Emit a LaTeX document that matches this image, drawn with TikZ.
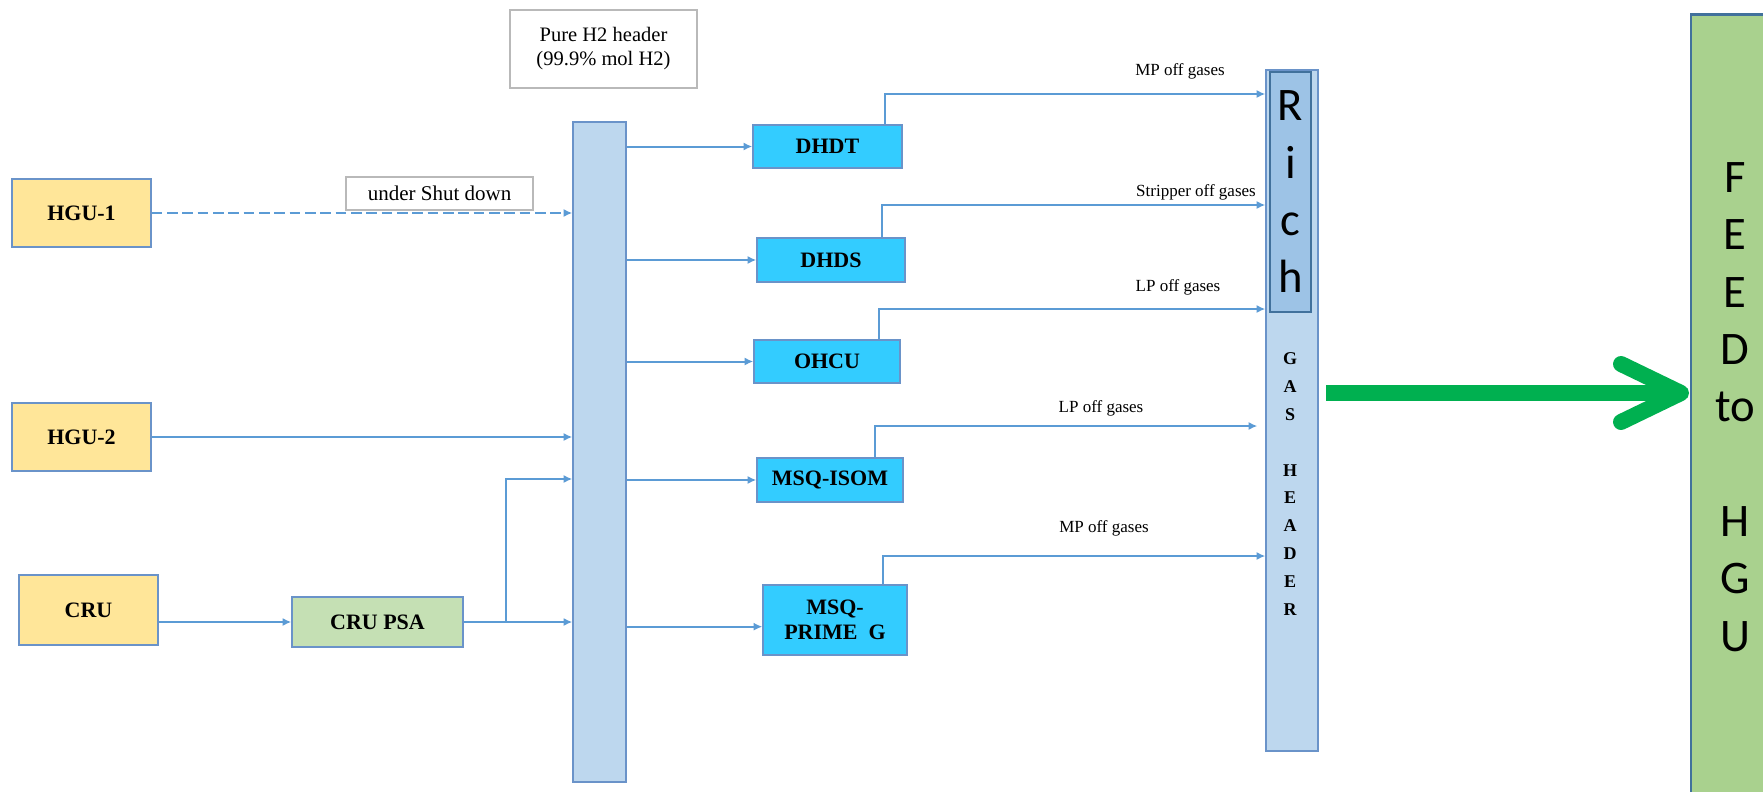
\documentclass[tikz,border=0pt]{standalone}
\usepackage{fontspec}
\setmainfont{Liberation Serif}
\newfontfamily\calib{Carlito}
\usetikzlibrary{arrows.meta,calc}
\definecolor{lineblue}{HTML}{5B9BD5}
\definecolor{boxedge}{HTML}{6A93C9}
\definecolor{darkedge}{HTML}{41719C}
\definecolor{hdrfill}{HTML}{BDD7EE}
\definecolor{richfill}{HTML}{9DC3E6}
\definecolor{yelfill}{HTML}{FFE699}
\definecolor{cyanfill}{HTML}{33CCFF}
\definecolor{psafill}{HTML}{C5E0B4}
\definecolor{feedfill}{HTML}{A9D18E}
\definecolor{garrowc}{HTML}{00B050}
\tikzset{
  unitbox/.style={draw=boxedge, line width=1pt, inner sep=0pt, align=center,
    font=\bfseries\fontsize{16.5}{18.75}\selectfont},
  srcbox/.style={unitbox, fill=yelfill},
  procbox/.style={unitbox, fill=cyanfill},
  psabox/.style={unitbox, fill=psafill},
  notebox/.style={draw=gray!55, line width=0.8pt, inner sep=0pt, align=center},
  flow/.style={draw=lineblue, line width=1.5pt, -{Latex[length=6.5pt,width=6pt]}},
  dflow/.style={flow, dash pattern=on 8pt off 3.5pt},
  gaslabel/.style={inner sep=0pt, font=\fontsize{12.75}{14}\selectfont},
  garrow/.style={draw=garrowc, line width=12pt, line cap=round, line join=round},
}
\begin{document}
\begin{tikzpicture}[x=0.75pt,y=-0.75pt]
\clip (0,0) rectangle (1763,792);
\fill[white] (0,0) rectangle (1763,792);

% pure H2 header label
\node[notebox, minimum width=140.25pt, minimum height=58.5pt,
  font=\fontsize{15.4}{18}\selectfont] (pure) at (603.5,49) {Pure H2 header\\(99.9\% mol H2)};

% main H2 header
\node[draw=boxedge, fill=hdrfill, line width=1pt, minimum width=39.75pt, minimum height=495pt, inner sep=0pt] (h2) at (599.5,452) {};

% sources
\node[srcbox, minimum width=104.25pt, minimum height=51pt] (hgu1) at (81.5,213) {HGU-1};
\node[srcbox, minimum width=104.25pt, minimum height=51pt] (hgu2) at (81.5,437) {HGU-2};
\node[srcbox, minimum width=104.25pt, minimum height=52.5pt] (cru) at (88.5,610) {CRU};
\node[psabox, minimum width=128.25pt, minimum height=37.5pt] (psa) at (377.5,622) {CRU PSA};

\node[notebox, minimum width=140.25pt, minimum height=24.75pt,
  font=\fontsize{15.75}{18}\selectfont] (shut) at (439.5,193.5) {under Shut down};

% process units
\node[procbox, minimum width=111.75pt, minimum height=32.25pt] (dhdt) at (827.5,146.5) {DHDT};
\node[procbox, minimum width=111pt, minimum height=33pt] (dhds) at (831,260) {DHDS};
\node[procbox, minimum width=109.5pt, minimum height=32.25pt] (ohcu) at (827,361.5) {OHCU};
\node[procbox, minimum width=109.5pt, minimum height=33pt] (isom) at (830,480) {MSQ-ISOM};
\node[procbox, minimum width=108pt, minimum height=52.5pt] (prime) at (835,620) {MSQ-\\PRIME~~G};

% rich gas header
\node[draw=boxedge, fill=hdrfill, line width=1pt, minimum width=39pt, minimum height=510.75pt, inner sep=0pt] (gas) at (1292,410.5) {};
\node[draw=darkedge, fill=richfill, line width=1.2pt, minimum width=30.75pt, minimum height=180pt, inner sep=0pt,
  align=center, font=\calib\fontsize{35}{43}\selectfont] (rich) at (1290.5,192) {R\\i\\c\\h};
\node[inner sep=0pt, align=center, font=\bfseries\fontsize{13.5}{20.85}\selectfont] (gastxt) at (1290,484)
  {G\\A\\S\\[20.85pt]H\\E\\A\\D\\E\\R};

% feed to HGU
\node[draw=darkedge, fill=feedfill, line width=2pt, minimum width=90pt, minimum height=620pt, inner sep=0pt] (feed) at (1751,428) {};
\node[inner sep=0pt, align=center, font=\calib\fontsize{35}{43}\selectfont] (feedtxt) at (1735,407)
  {F\\E\\E\\D\\to\\[43pt]H\\G\\U};

% inflows to H2 header
\draw[dflow] (hgu1.east) -- (h2.west |- hgu1.east);
\draw[flow] (hgu2.east) -- (h2.west |- hgu2.east);
\draw[flow] (cru.east |- psa.west) -- (psa.west);
\draw[flow] (psa.east) -- (h2.west |- psa.east);
\coordinate (br) at (506,479);
\draw[flow] (psa.east -| br) |- (h2.west |- br);

% outflows from H2 header
\draw[flow] (h2.east |- dhdt.west) -- (dhdt.west);
\draw[flow] (h2.east |- dhds.west) -- (dhds.west);
\draw[flow] (h2.east |- ohcu.west) -- (ohcu.west);
\draw[flow] (h2.east |- isom.west) -- (isom.west);
\draw[flow] ([yshift=-5pt]h2.east |- prime.west) -- ([yshift=-5pt]prime.west);

% off gases
\coordinate (o1) at (885,94);
\coordinate (o2) at (882,205);
\coordinate (o3) at (879,309);
\coordinate (o4) at (875,426);
\coordinate (o5) at (883,556);
\draw[flow] (dhdt.north -| o1) |- (gas.west |- o1);
\draw[flow] (dhds.north -| o2) |- (gas.west |- o2);
\draw[flow] (ohcu.north -| o3) |- (gas.west |- o3);
\draw[flow, shorten >=6pt] (isom.north -| o4) |- (gas.west |- o4);
\draw[flow] (prime.north -| o5) |- (gas.west |- o5);

\node[gaslabel] (l1) at (1180,71) {MP off gases};
\node[gaslabel] (l2) at (1196,192) {Stripper off gases};
\node[gaslabel] (l3) at (1178,287) {LP off gases};
\node[gaslabel] (l4) at (1101,408) {LP off gases};
\node[gaslabel] (l5) at (1104,528) {MP off gases};

% green arrow
\coordinate (ga) at (1326,393);
\coordinate (gb) at (1681,393);
\draw[garrow, line cap=butt] (ga) -- (gb);
\draw[garrow] ($(gb)+(-60,-29)$) -- (gb) -- ($(gb)+(-60,29)$);
\end{tikzpicture}
\end{document}
